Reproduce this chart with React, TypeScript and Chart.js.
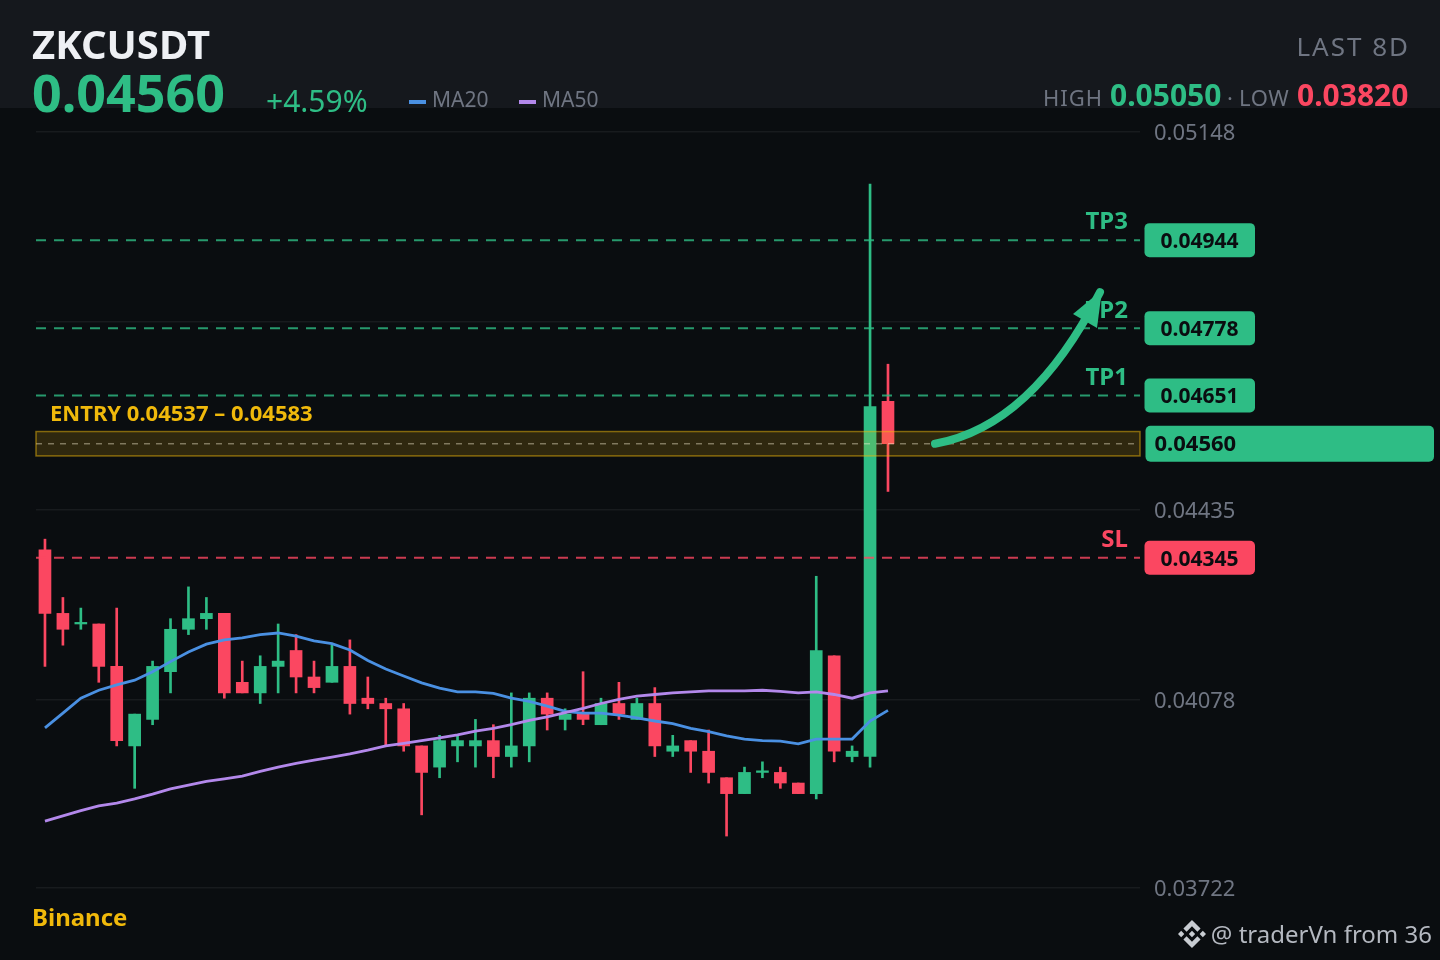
import React, { useEffect, useRef } from "react";
import { Chart, registerables } from "chart.js";

Chart.register(...registerables);

const opens = [0.0436,0.0424,0.0422,0.0422,0.0414,0.0399,0.0404,0.0413,0.0421,0.0423,0.0424,0.0411,0.0409,0.0414,0.0417,0.0412,0.0411,0.0414,0.0408,0.0407,0.0406,0.0399,0.0395,0.0399,0.0399,0.0400,0.0397,0.0399,0.0408,0.0404,0.0405,0.0403,0.0407,0.0404,0.0407,0.0398,0.0400,0.0398,0.0393,0.0390,0.0394,0.0394,0.0392,0.0390,0.0416,0.0397,0.0397,0.0464];
const closes = [0.0424,0.0421,0.04223,0.0414,0.0400,0.0405,0.0414,0.0421,0.0423,0.0424,0.0409,0.0409,0.0414,0.0415,0.0412,0.0410,0.0414,0.0407,0.0407,0.0406,0.0399,0.0394,0.0400,0.0400,0.0400,0.0397,0.0399,0.0408,0.0405,0.0405,0.0404,0.0407,0.0405,0.0407,0.0399,0.0399,0.0398,0.0394,0.0390,0.0394,0.03943,0.0392,0.0390,0.0417,0.0398,0.0398,0.0463,0.0456];
const highs = [0.0438,0.0427,0.0425,0.0422,0.0425,0.0405,0.0415,0.0423,0.0429,0.0427,0.0424,0.0415,0.0416,0.0422,0.0420,0.0415,0.0418,0.0419,0.0412,0.0408,0.0407,0.0399,0.0401,0.0401,0.0404,0.0403,0.0409,0.0409,0.0409,0.0406,0.0413,0.0408,0.0411,0.0408,0.0410,0.0401,0.0400,0.0402,0.0393,0.0395,0.0396,0.0395,0.0392,0.0431,0.0416,0.0399,0.0505,0.0471];
const lows = [0.0414,0.0418,0.0421,0.0411,0.0399,0.0391,0.0403,0.0409,0.0420,0.0421,0.0408,0.0409,0.0407,0.0409,0.0409,0.0409,0.0411,0.0405,0.0406,0.0399,0.0398,0.0386,0.0393,0.0396,0.0395,0.0393,0.0395,0.0396,0.0402,0.0402,0.0403,0.0403,0.0404,0.0404,0.0397,0.0397,0.0394,0.0392,0.0382,0.0390,0.0393,0.0391,0.0390,0.0389,0.0396,0.0396,0.0395,0.0447];
const ma20 = [0.04024,0.04052,0.0408,0.04095,0.04105,0.04114,0.0413,0.04149,0.04167,0.04182,0.0419,0.04194,0.042,0.04203,0.04197,0.04188,0.04183,0.04171,0.04151,0.04135,0.04122,0.04109,0.04099,0.04092,0.04092,0.04089,0.0408,0.04074,0.04065,0.04055,0.04052,0.04052,0.04048,0.04043,0.04037,0.04032,0.04023,0.04017,0.04009,0.04003,0.04,0.03999,0.03994,0.04003,0.04003,0.04003,0.04037,0.04057];
const ma50 = [0.03848,0.03858,0.03868,0.03877,0.03882,0.0389,0.03899,0.03909,0.03916,0.03923,0.03928,0.03933,0.03942,0.0395,0.03957,0.03963,0.03969,0.03975,0.03982,0.0399,0.03995,0.04,0.04005,0.04011,0.04018,0.04023,0.0403,0.04038,0.04045,0.04053,0.04061,0.0407,0.04078,0.04084,0.04087,0.0409,0.04092,0.04094,0.04094,0.04094,0.04095,0.04093,0.0409,0.04092,0.04087,0.0408,0.0409,0.04094];
const axisTicks = [0.03722, 0.04078, 0.04435, 0.04791, 0.05148];
const targets = [
  { label: "TP3", value: 0.04944 },
  { label: "TP2", value: 0.04778 },
  { label: "TP1", value: 0.04651 },
];
const stopLoss = { label: "SL", value: 0.04345 };
const lastPrice = 0.0456;
const entryLow = 0.04537;
const entryHigh = 0.04583;
const arrowFrom = [49.62, 0.0456];
const arrowVia = [55.03, 0.04593];
const arrowTo = [58.82, 0.04846];

const GREEN = "#2ebd85";
const RED = "#fb4761";
const GOLD = "#f0b90b";
const GREY = "#6f7582";
const X_MIN = -0.5;
const X_MAX = 61.05;
const FONT = '"Noto Sans", sans-serif';

const indices = opens.map((_, i) => i);
const levelLine = (value: number, color: string, width: number, dash: number[], order: number) => ({
  type: "line" as const,
  data: [{ x: X_MIN, y: value }, { x: X_MAX, y: value }],
  borderColor: color,
  borderWidth: width,
  borderDash: dash,
  pointRadius: 0,
  order,
});

function roundTag(ctx: CanvasRenderingContext2D, x: number, y: number, w: number, h: number, color: string) {
  ctx.fillStyle = color;
  ctx.beginPath();
  ctx.roundRect(x, y, w, h, 5);
  ctx.fill();
}

const overlayPlugin = {
  id: "overlay",
  afterDatasetsDraw(chart: any) {
    const { ctx, scales } = chart;
    const px = (v: number) => scales.x.getPixelForValue(v);
    const py = (v: number) => scales.y.getPixelForValue(v);
    const L = chart.chartArea.left;
    const R = chart.chartArea.right;
    ctx.save();

    // entry zone
    const zt = py(entryHigh);
    const zb = py(entryLow);
    ctx.fillStyle = "rgba(240,185,11,0.16)";
    ctx.fillRect(L, zt, R - L, zb - zt);
    ctx.strokeStyle = "rgba(240,185,11,0.5)";
    ctx.lineWidth = 1.5;
    ctx.strokeRect(L, zt, R - L, zb - zt);
    ctx.textBaseline = "middle";
    ctx.textAlign = "left";
    ctx.fillStyle = GOLD;
    ctx.font = `bold 22px ${FONT}`;
    ctx.fillText(`ENTRY ${entryLow.toFixed(5)} – ${entryHigh.toFixed(5)}`, 50, zt - 17);

    // level labels and tags
    const levels = [...targets.map((t) => ({ ...t, color: GREEN })), { ...stopLoss, color: RED }];
    for (const lv of levels) {
      const y = py(lv.value);
      ctx.fillStyle = lv.color;
      ctx.font = `bold 24px ${FONT}`;
      ctx.textAlign = "right";
      ctx.fillText(lv.label, 1128, y - 17.5);
      roundTag(ctx, 1144.5, y - 17, 110.5, 34, lv.color);
      ctx.fillStyle = "#0a0d10";
      ctx.font = `bold 21px ${FONT}`;
      ctx.textAlign = "left";
      ctx.fillText(lv.value.toFixed(5), 1160.5, y + 2);
    }
    const ly = py(lastPrice);
    roundTag(ctx, 1145.5, ly - 18, 288.5, 36, GREEN);
    ctx.fillStyle = "#0a0d10";
    ctx.font = `bold 22px ${FONT}`;
    ctx.textAlign = "left";
    ctx.fillText(lastPrice.toFixed(5), 1154.5, ly + 1);

    // arrow
    ctx.strokeStyle = GREEN;
    ctx.lineWidth = 8;
    ctx.lineCap = "round";
    ctx.beginPath();
    ctx.moveTo(px(arrowFrom[0]), py(arrowFrom[1]));
    ctx.quadraticCurveTo(px(arrowVia[0]), py(arrowVia[1]), px(arrowTo[0]), py(arrowTo[1]));
    ctx.stroke();
    const ex = px(arrowTo[0]);
    const ey = py(arrowTo[1]);
    ctx.fillStyle = GREEN;
    ctx.beginPath();
    ctx.moveTo(ex + 2, ey - 2);
    ctx.lineTo(ex - 27, ey + 22);
    ctx.lineTo(ex - 3, ey + 36);
    ctx.closePath();
    ctx.fill();
    ctx.restore();
  },
};

function Label(props: { x?: number; right?: number; cy: number; size: number; color: string; bold?: boolean; spacing?: number; children: React.ReactNode }) {
  const { x, right, cy, size, color, bold, spacing, children } = props;
  const lh = size * 1.4;
  return (
    <div
      style={{
        position: "absolute",
        left: x,
        right,
        top: cy - lh / 2,
        lineHeight: `${lh}px`,
        fontSize: size,
        fontWeight: bold ? 700 : 400,
        color,
        letterSpacing: spacing,
        whiteSpace: "nowrap",
        fontFamily: FONT,
      }}
    >
      {children}
    </div>
  );
}

export default function App() {
  const ref = useRef<HTMLCanvasElement | null>(null);

  useEffect(() => {
    document.body.style.margin = "0";
    const candleColor = (i: number) => (closes[i] >= opens[i] ? GREEN : RED);
    const chart = new Chart(ref.current as HTMLCanvasElement, {
      type: "bar",
      data: {
        datasets: [
          {
            label: "Wick",
            data: indices.map((i) => ({ x: i, y: [lows[i], highs[i]] })),
            backgroundColor: indices.map(candleColor),
            barThickness: 2,
            grouped: false,
            order: 6,
          },
          {
            label: "Body",
            data: indices.map((i) => ({ x: i, y: [opens[i], closes[i]] })),
            backgroundColor: indices.map(candleColor),
            barThickness: 12,
            grouped: false,
            order: 5,
          },
          {
            type: "line",
            label: "MA20",
            data: indices.map((i) => ({ x: i, y: ma20[i] })),
            borderColor: "#4a90e2",
            borderWidth: 2.8,
            pointRadius: 0,
            order: 4,
          },
          {
            type: "line",
            label: "MA50",
            data: indices.map((i) => ({ x: i, y: ma50[i] })),
            borderColor: "#b388eb",
            borderWidth: 2.8,
            pointRadius: 0,
            order: 3,
          },
          ...targets.map((t) => levelLine(t.value, "rgba(46,189,133,0.8)", 2, [10, 8], 2)),
          levelLine(stopLoss.value, "rgba(251,71,97,0.8)", 2, [10, 8], 2),
          levelLine(lastPrice, "rgba(255,255,255,0.4)", 1.5, [6, 6], 1),
        ] as any,
      },
      options: {
        animation: false,
        responsive: false,
        layout: { padding: { left: 36, top: 132, bottom: 72, right: 0 } },
        plugins: { legend: { display: false }, tooltip: { enabled: false } },
        scales: {
          x: { type: "linear", min: X_MIN, max: X_MAX, offset: false, display: false },
          y: {
            type: "linear",
            position: "right",
            min: axisTicks[0],
            max: axisTicks[axisTicks.length - 1],
            afterFit: (s: any) => {
              s.width = 300;
            },
            afterBuildTicks: (s: any) => {
              s.ticks = axisTicks.map((value) => ({ value }));
            },
            border: { display: false },
            grid: { color: "rgba(255,255,255,0.06)", lineWidth: 1.5, drawTicks: false },
            ticks: {
              color: GREY,
              padding: 14,
              labelOffset: 2,
              font: { family: FONT, size: 22 },
              callback: (v: any) => Number(v).toFixed(5),
            },
          },
        },
      } as any,
      plugins: [overlayPlugin],
    });
    return () => chart.destroy();
  }, []);

  return (
    <div style={{ position: "fixed", left: 0, top: 0, width: 1440, height: 960, background: "#0a0d10", overflow: "hidden" }}>
      <div style={{ position: "absolute", left: 0, top: 0, width: 1440, height: 108, background: "#15181d" }} />
      <canvas ref={ref} width={1440} height={960} style={{ position: "absolute", left: 0, top: 0, width: 1440, height: 960 }} />
      <Label x={32} cy={44} size={40} color="#eef0f4" bold>ZKCUSDT</Label>
      <Label x={32} cy={92} size={52} color={GREEN} bold>0.04560</Label>
      <Label x={266} cy={101} size={30} color={GREEN}>+4.59%</Label>
      <div style={{ position: "absolute", left: 409, top: 100, width: 17, height: 4, background: "#4a90e2" }} />
      <Label x={432} cy={100} size={21} color={GREY}>MA20</Label>
      <div style={{ position: "absolute", left: 519, top: 100, width: 17, height: 4, background: "#b388eb" }} />
      <Label x={542} cy={100} size={21} color={GREY}>MA50</Label>
      <Label right={30} cy={46} size={26} color={GREY} spacing={2}>LAST 8D</Label>
      <Label x={1043} cy={97} size={22} color={GREY} spacing={1}>HIGH</Label>
      <Label x={1110} cy={95} size={30} color={GREEN} bold>0.05050</Label>
      <Label x={1227} cy={97} size={22} color={GREY}>·</Label>
      <Label x={1239} cy={97} size={22} color={GREY} spacing={0.6}>LOW</Label>
      <Label x={1297} cy={95} size={30} color={RED} bold>0.03820</Label>
      <Label x={32} cy={917} size={24} color={GOLD} bold>Binance</Label>
      <svg viewBox="0 0 24 24" width={28} height={28} style={{ position: "absolute", left: 1178, top: 920 }}>
        <path
          fill="#c8ccd2"
          d="M16.624 13.9202l2.7175 2.7154-7.353 7.353-7.353-7.352 2.7175-2.7164 4.6355 4.6595 4.6356-4.6595zm4.6366-4.6366L24 12l-2.7154 2.7164L18.5682 12l2.6924-2.7164zm-9.272.001l2.7163 2.6914-2.7164 2.7174v-.001L9.2721 12l2.7164-2.7154zm-9.2722-.001L5.4088 12l-2.6914 2.6924L0 12l2.7164-2.7164zM11.9885.0115l7.353 7.329-2.7174 2.7154-4.6356-4.6356-4.6355 4.6595-2.7174-2.7154 7.353-7.353z"
        />
      </svg>
      <Label right={8} cy={934} size={24} color="#b4b8c0">@ traderVn from 36</Label>
    </div>
  );
}
